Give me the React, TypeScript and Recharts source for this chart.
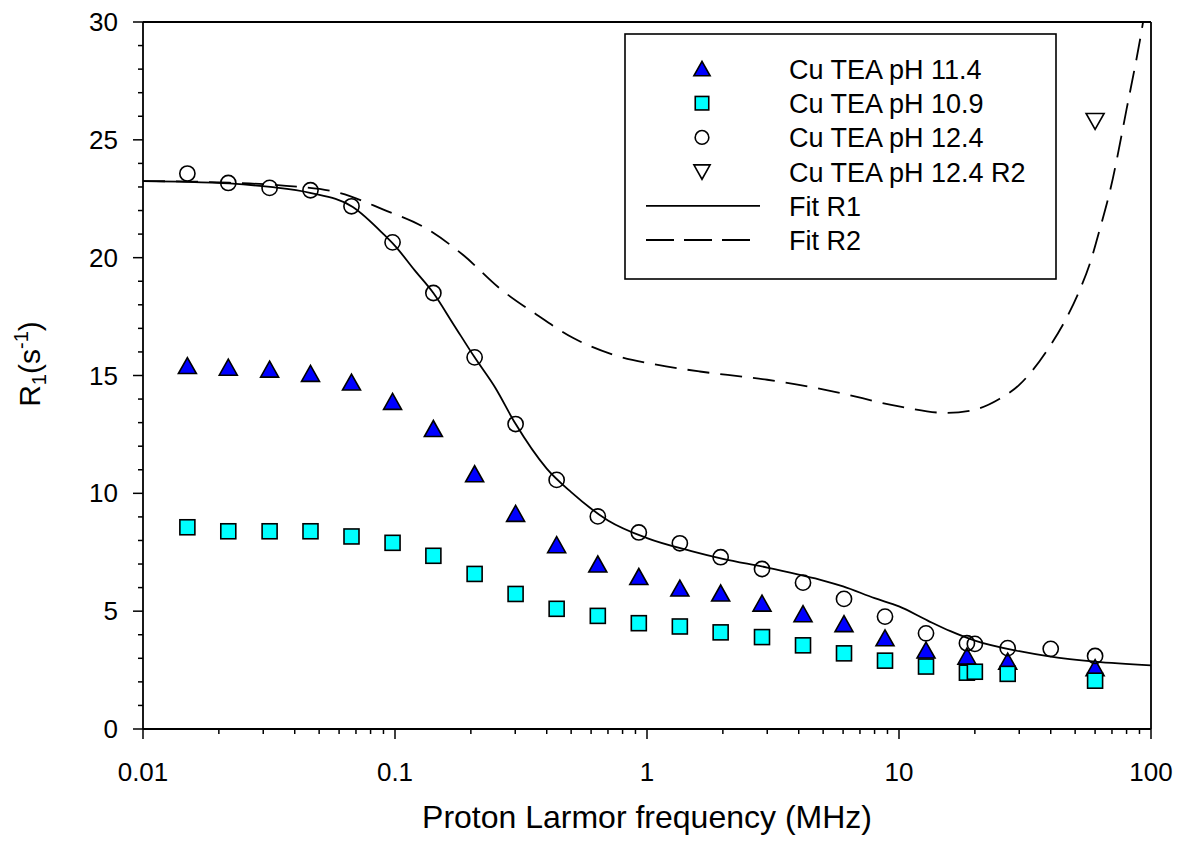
import React from "react";
import {
  ComposedChart,
  Line,
  Scatter,
  XAxis,
  YAxis,
  ReferenceLine,
  Legend,
} from "recharts";

const FONT = "'Liberation Sans', Arial, sans-serif";

// measured frequencies (MHz)
const freqs = [
  0.015, 0.0218, 0.0318, 0.0462, 0.0672, 0.0978, 0.142, 0.207, 0.301, 0.438,
  0.638, 0.928, 1.35, 1.96, 2.86, 4.16, 6.05, 8.8, 12.8, 18.6,
];

const ph114Freq = [...freqs, 27, 60];
const ph114R1 = [
  15.4, 15.33, 15.25, 15.07, 14.7, 13.88, 12.73, 10.81, 9.13, 7.8, 6.98, 6.45,
  5.96, 5.75, 5.32, 4.87, 4.45, 3.85, 3.33, 3.07, 2.86, 2.58,
];

const ph109Freq = [...freqs, 20, 27, 60];
const ph109R1 = [
  8.56, 8.39, 8.39, 8.39, 8.17, 7.9, 7.35, 6.58, 5.73, 5.1, 4.8, 4.49, 4.35,
  4.1, 3.9, 3.55, 3.21, 2.9, 2.65, 2.39, 2.43, 2.34, 2.05,
];

const ph124Freq = [...freqs, 20, 27, 40, 60];
const ph124R1 = [
  23.57, 23.17, 22.96, 22.86, 22.18, 20.65, 18.5, 15.77, 12.94, 10.57, 9.02,
  8.34, 7.88, 7.29, 6.79, 6.21, 5.52, 4.77, 4.06, 3.64, 3.61, 3.43, 3.4, 3.1,
];

const ph124R2Freq = [60];
const ph124R2 = [25.8];

// fitted curves
const fitR1Freq = [
  0.01, 0.015, 0.022, 0.032, 0.046, 0.068, 0.09, 0.1, 0.12, 0.142, 0.17, 0.207,
  0.25, 0.3, 0.4, 0.5, 0.7, 1, 1.5, 2, 3, 4, 5, 6, 8, 10, 13, 16, 20, 30, 40,
  60, 100,
];
const fitR1 = [
  23.25, 23.22, 23.15, 23.0, 22.75, 22.15, 21.0, 20.5, 19.45, 18.5, 17.2, 15.77,
  14.48, 12.97, 11.05, 10.05, 8.85, 8.1, 7.55, 7.22, 6.85, 6.55, 6.3, 6.05, 5.55,
  5.2, 4.6, 4.15, 3.75, 3.3, 3.07, 2.86, 2.7,
];

const fitR2Freq = [
  0.01, 0.015, 0.022, 0.037, 0.06, 0.09, 0.13, 0.187, 0.26, 0.365, 0.51, 0.735,
  1.09, 1.62, 2.34, 3, 5.5, 10, 15.5, 20, 25, 30, 34, 40, 46, 52, 57, 63, 69,
  80, 93, 100,
];
const fitR2 = [
  23.25, 23.23, 23.18, 23.05, 22.75, 22.04, 21.3, 20.1, 18.7, 17.58, 16.59,
  15.88, 15.46, 15.17, 14.96, 14.82, 14.32, 13.69, 13.41, 13.55, 14.0, 14.6,
  15.24, 16.3, 17.4, 18.6, 19.7, 21.3, 22.9, 26.3, 30.0, 32.2,
];

const xTicks = [
  0.01, 0.02, 0.03, 0.04, 0.05, 0.06, 0.07, 0.08, 0.09, 0.1, 0.2, 0.3, 0.4, 0.5,
  0.6, 0.7, 0.8, 0.9, 1, 2, 3, 4, 5, 6, 7, 8, 9, 10, 20, 30, 40, 50, 60, 70, 80,
  90, 100,
];
const xMajor = [0.01, 0.1, 1, 10, 100];
const yTicks = [
  0, 1, 2, 3, 4, 5, 6, 7, 8, 9, 10, 11, 12, 13, 14, 15, 16, 17, 18, 19, 20, 21,
  22, 23, 24, 25, 26, 27, 28, 29, 30,
];

const zip = (f: number[], r: number[]) => f.map((v, i) => ({ f: v, r: r[i] }));

const SW = 1.6;

const triUp = (cx: number, cy: number, k = 1) => (
  <polygon
    points={`${cx},${cy - 8.5 * k} ${cx + 9 * k},${cy + 7.5 * k} ${cx - 9 * k},${cy + 7.5 * k}`}
    fill="#0000ff"
    stroke="#000"
    strokeWidth={SW}
  />
);
const triDown = (cx: number, cy: number, k = 1) => (
  <polygon
    points={`${cx - 9 * k},${cy - 7.5 * k} ${cx + 9 * k},${cy - 7.5 * k} ${cx},${cy + 8.5 * k}`}
    fill="none"
    stroke="#000"
    strokeWidth={SW}
  />
);
const square = (cx: number, cy: number, k = 1) => (
  <rect
    x={cx - 7.5 * k}
    y={cy - 7.5 * k}
    width={15 * k}
    height={15 * k}
    fill="#00ffff"
    stroke="#000"
    strokeWidth={SW}
  />
);
const circle = (cx: number, cy: number, k = 1) => (
  <circle cx={cx} cy={cy} r={7.6 * k} fill="none" stroke="#000" strokeWidth={SW} />
);

const legendItems = [
  { label: "Cu TEA pH 11.4", mark: triUp },
  { label: "Cu TEA pH 10.9", mark: square },
  { label: "Cu TEA pH 12.4", mark: circle },
  { label: "Cu TEA pH 12.4 R2", mark: triDown },
  { label: "Fit R1", dash: "" },
  { label: "Fit R2", dash: "28 10" },
];

const XTick = (props: any) => {
  const { x, y, payload } = props;
  const v = payload.value;
  const major = xMajor.includes(v);
  return (
    <g>
      <line x1={x} x2={x} y1={y} y2={y + (major ? 10 : 5)} stroke="#000" strokeWidth={1.5} />
      {major && (
        <text x={x} y={y + 52} textAnchor="middle" fontSize={26} fontFamily={FONT} fill="#000">
          {String(v)}
        </text>
      )}
    </g>
  );
};

const YTick = (props: any) => {
  const { x, y, payload } = props;
  const v = payload.value;
  const major = v % 5 === 0;
  return (
    <g>
      <line x1={x - (major ? 10 : 5)} x2={x} y1={y} y2={y} stroke="#000" strokeWidth={1.5} />
      {major && (
        <text x={x - 25} y={y + 9} textAnchor="end" fontSize={26} fontFamily={FONT} fill="#000">
          {String(v)}
        </text>
      )}
    </g>
  );
};

const LegendBox = () => (
  <svg width={433} height={247} style={{ display: "block" }}>
    <rect x={1} y={1} width={431} height={245} fill="#fff" stroke="#000" strokeWidth={1.6} />
    {legendItems.map((it, i) => {
      const cy = 36 + i * 34.2;
      return (
        <g key={it.label}>
          {it.mark
            ? it.mark(78, cy, 0.9)
            : (
              <line
                x1={22}
                x2={136}
                y1={cy}
                y2={cy}
                stroke="#000"
                strokeWidth={1.8}
                strokeDasharray={it.dash || undefined}
              />
            )}
          <text x={165} y={cy + 10} fontSize={27} fontFamily={FONT} fill="#000">
            {it.label}
          </text>
        </g>
      );
    })}
  </svg>
);

export default function App() {
  return (
    <div style={{ position: "absolute", left: 0, top: 0, background: "#fff" }}>
      <ComposedChart
        width={1177}
        height={845}
        margin={{ top: 22, right: 26, bottom: 0, left: 0 }}
      >
        <XAxis
          dataKey="f"
          type="number"
          scale="log"
          domain={[0.01, 100]}
          allowDataOverflow
          ticks={xTicks}
          interval={0}
          tickSize={0}
          tickMargin={0}
          tickLine={false}
          tick={<XTick />}
          height={116}
          axisLine={{ stroke: "#000", strokeWidth: 1.8 }}
          label={{
            value: "Proton Larmor frequency (MHz)",
            position: "insideBottom",
            offset: 17,
            style: { fontSize: 32, fontFamily: FONT, fill: "#000" },
          }}
        />
        <YAxis
          dataKey="r"
          type="number"
          domain={[0, 30]}
          allowDataOverflow
          ticks={yTicks}
          interval={0}
          tickSize={0}
          tickMargin={0}
          tickLine={false}
          tick={<YTick />}
          width={143}
          axisLine={{ stroke: "#000", strokeWidth: 1.8 }}
          label={{
            content: () => (
              <text
                x={40}
                y={364}
                transform="rotate(-90, 40, 364)"
                textAnchor="middle"
                fontSize={30}
                fontFamily={FONT}
                fill="#000"
              >
                R
                <tspan fontSize={20} dy={6}>1</tspan>
                <tspan dy={-6}>(s</tspan>
                <tspan fontSize={20} dy={-12}>-1</tspan>
                <tspan dy={12}>)</tspan>
              </text>
            ),
          }}
        />
        <ReferenceLine y={30} stroke="#000" strokeWidth={1.8} />
        <ReferenceLine x={100} stroke="#000" strokeWidth={1.8} />
        <Line
          data={zip(fitR1Freq, fitR1)}
          dataKey="r"
          type="monotone"
          stroke="#000"
          strokeWidth={1.8}
          dot={false}
          activeDot={false}
          isAnimationActive={false}
        />
        <Line
          data={zip(fitR2Freq, fitR2)}
          dataKey="r"
          type="monotone"
          stroke="#000"
          strokeWidth={1.8}
          strokeDasharray="22 11"
          dot={false}
          activeDot={false}
          isAnimationActive={false}
        />
        <Scatter
          data={zip(ph114Freq, ph114R1)}
          dataKey="r"
          shape={(p: any) => triUp(p.cx, p.cy)}
          isAnimationActive={false}
        />
        <Scatter
          data={zip(ph109Freq, ph109R1)}
          dataKey="r"
          shape={(p: any) => square(p.cx, p.cy)}
          isAnimationActive={false}
        />
        <Scatter
          data={zip(ph124Freq, ph124R1)}
          dataKey="r"
          shape={(p: any) => circle(p.cx, p.cy)}
          isAnimationActive={false}
        />
        <Scatter
          data={zip(ph124R2Freq, ph124R2)}
          dataKey="r"
          shape={(p: any) => triDown(p.cx, p.cy)}
          isAnimationActive={false}
        />
        <Legend
          layout="vertical"
          align="center"
          verticalAlign="middle"
          content={() => <LegendBox />}
          wrapperStyle={{ position: "absolute", left: 624, top: 33, width: 433, height: 247 }}
        />
      </ComposedChart>
    </div>
  );
}
